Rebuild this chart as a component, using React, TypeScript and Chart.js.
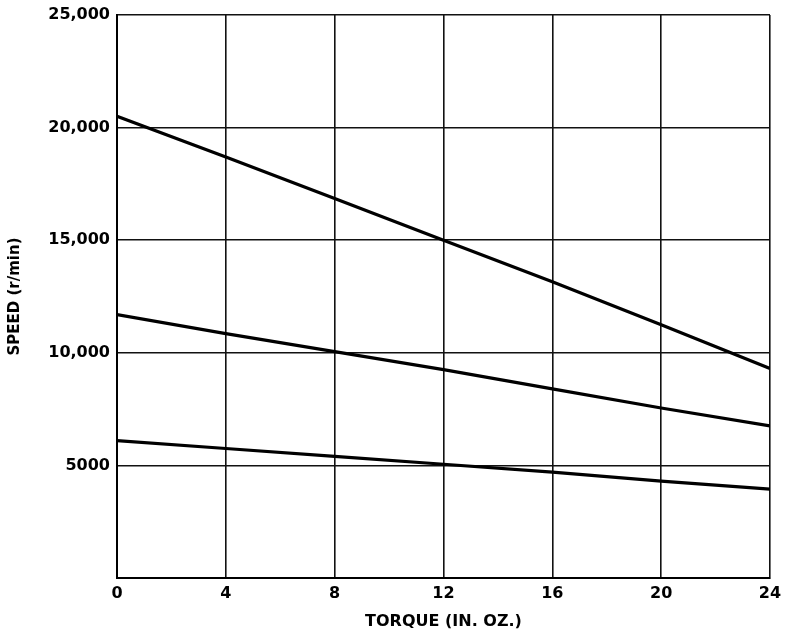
import React, { useEffect, useRef } from "react";
import { Chart, registerables } from "chart.js";

Chart.register(...registerables);

const torque = [0, 4, 8, 12, 16, 20, 24];
const speedHigh = [20500, 18700, 16850, 15000, 13150, 11250, 9300];
const speedMid = [11700, 10850, 10050, 9250, 8400, 7550, 6750];
const speedLow = [6100, 5750, 5400, 5050, 4700, 4300, 3950];
const yTickLabels = ["", "5000", "10,000", "15,000", "20,000", "25,000"];
const xTitle = "TORQUE (IN. OZ.)";
const yTitle = "SPEED (r/min)";

const FONT = "'DejaVu Sans', Arial, sans-serif";

export default function App() {
  const ref = useRef<HTMLCanvasElement | null>(null);
  useEffect(() => {
    document.body.style.margin = "0";
    const mk = (vals: number[]) =>
      torque.map((x, i) => ({ x, y: vals[i] }));
    const ds = (vals: number[]) => ({
      data: mk(vals),
      borderColor: "#000",
      borderWidth: 3.2,
      pointRadius: 0,
      tension: 0,
      fill: false,
    });
    const chart = new Chart(ref.current!, {
      type: "line",
      data: { datasets: [ds(speedHigh), ds(speedMid), ds(speedLow)] },
      options: {
        responsive: false,
        animation: false,
        layout: { padding: { top: 15, right: 15, bottom: 0, left: 0 } },
        plugins: { legend: { display: false }, tooltip: { enabled: false } },
        scales: {
          x: {
            type: "linear",
            min: 0,
            max: 24,
            ticks: {
              stepSize: 4,
              color: "#000",
              padding: 6,
              font: { family: FONT, size: 16, weight: "bold" },
              maxRotation: 0,
            },
            grid: { color: "#111", lineWidth: 1.6, drawTicks: false },
            border: { color: "#000", width: 2 },
            title: {
              display: true,
              text: xTitle,
              color: "#000",
              padding: { top: 0, bottom: 1 },
              font: { family: FONT, size: 16, weight: "bold" },
            },
            afterFit: (s: any) => {
              s.height = 54;
              s.paddingRight = 0;
              s.paddingLeft = 0;
            },
          },
          y: {
            type: "linear",
            min: 0,
            max: 25000,
            ticks: {
              stepSize: 5000,
              color: "#000",
              padding: 7,
              font: { family: FONT, size: 16, weight: "bold" },
              callback: (_v: any, i: number) => yTickLabels[i] ?? "",
            },
            grid: { color: "#111", lineWidth: 1.6, drawTicks: false },
            border: { color: "#000", width: 2 },
            title: {
              display: true,
              text: yTitle,
              color: "#000",
              padding: { top: 6, bottom: 0 },
              font: { family: FONT, size: 15, weight: "bold" },
            },
            afterFit: (s: any) => {
              s.width = 117;
              s.paddingTop = 0;
              s.paddingBottom = 0;
            },
          },
        },
      },
    });
    return () => chart.destroy();
  }, []);
  return (
    <div style={{ position: "absolute", left: 0, top: 0, width: 785, height: 632, background: "#fff" }}>
      <canvas ref={ref} width={785} height={632} />
    </div>
  );
}
